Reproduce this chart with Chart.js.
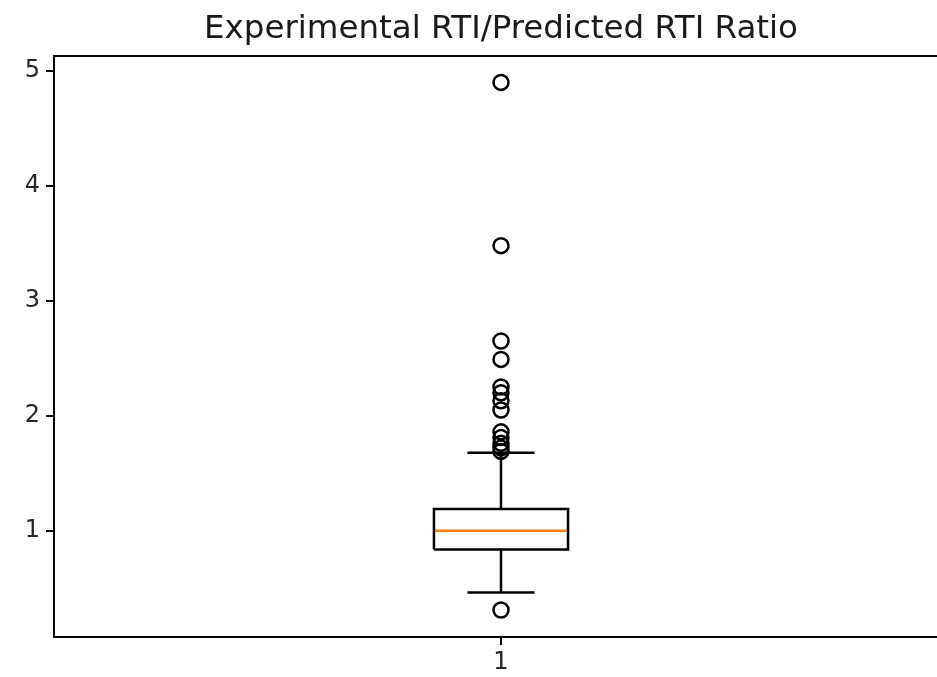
<!DOCTYPE html>
<html>
<head>
<meta charset="utf-8">
<title>Experimental RTI/Predicted RTI Ratio</title>
<script src="https://cdn.jsdelivr.net/npm/chart.js@4.4.0/dist/chart.umd.min.js"></script>
<style>
  html, body { margin: 0; padding: 0; background: #fff; overflow: hidden; }
  #wrap { width: 960px; height: 677px; }
</style>
</head>
<body>
<div id="wrap"><canvas id="box" width="960" height="677"></canvas></div>
<script>
// valores
const categories = ["1"];
const q1 = [0.837];
const median = [1.0];
const q3 = [1.189];
const whiskerLow = [0.463];
const whiskerHigh = [1.677];
const outliers = [[0.31, 1.69, 1.72, 1.76, 1.81, 1.86, 2.05, 2.13, 2.20, 2.25, 2.49, 2.65, 3.48, 4.90]];
const yTicks = [1, 2, 3, 4, 5];
const titulo = "Experimental RTI/Predicted RTI Ratio";

const BOX_W = 0.15;   // largura da caixa (unidades do eixo x)
const CAP_W = 0.075;  // largura das barras dos bigodes
const FONT = "'DejaVu Sans', 'Liberation Sans', sans-serif";
const INK = "#000";

const lineSet = (data, color = INK, width = 2.5) => ({
  type: "line",
  data,
  borderColor: color,
  borderWidth: width,
  pointRadius: 0,
  pointHoverRadius: 0,
  fill: false,
  tension: 0
});

const datasets = [];
categories.forEach((c, i) => {
  const x = i + 1, h = BOX_W / 2, k = CAP_W / 2;
  datasets.push(lineSet([
    { x: x - h, y: q1[i] }, { x: x + h, y: q1[i] }, { x: x + h, y: q3[i] },
    { x: x - h, y: q3[i] }, { x: x - h, y: q1[i] }
  ]));
  datasets.push(lineSet([{ x, y: q1[i] }, { x, y: whiskerLow[i] }]));
  datasets.push(lineSet([{ x, y: q3[i] }, { x, y: whiskerHigh[i] }]));
  datasets.push(lineSet([{ x: x - k, y: whiskerLow[i] }, { x: x + k, y: whiskerLow[i] }]));
  datasets.push(lineSet([{ x: x - k, y: whiskerHigh[i] }, { x: x + k, y: whiskerHigh[i] }]));
  datasets.push(lineSet([{ x: x - h, y: median[i] }, { x: x + h, y: median[i] }], "#ff7f0e", 2.5));
  datasets.push({
    type: "scatter",
    data: outliers[i].map((v) => ({ x, y: v })),
    showLine: false,
    pointStyle: "circle",
    pointRadius: 7.5,
    pointBorderWidth: 2.5,
    borderColor: INK,
    backgroundColor: "rgba(0,0,0,0)"
  });
});

// moldura do eixo (topo/direita) + título centrado sobre a área do gráfico
const frame = {
  id: "frame",
  afterDatasetsDraw(chart) {
    const { ctx, chartArea: a } = chart;
    ctx.save();
    ctx.strokeStyle = INK;
    ctx.lineWidth = 2;
    ctx.strokeRect(a.left, a.top, a.right - a.left, a.bottom - a.top);
    ctx.fillStyle = "#1a1a1a";
    ctx.font = "32.5px " + FONT;
    ctx.textAlign = "center";
    ctx.textBaseline = "middle";
    ctx.fillText(titulo, (a.left + a.right) / 2, 30);
    ctx.restore();
  }
};

new Chart(document.getElementById("box"), {
  type: "scatter",
  data: { datasets },
  plugins: [frame],
  options: {
    responsive: false,
    animation: false,
    events: [],
    layout: { padding: { top: 56, right: 12, bottom: 0, left: 0 } },
    plugins: {
      legend: { display: false },
      tooltip: { enabled: false },
      title: { display: false }
    },
    scales: {
      x: {
        type: "linear",
        min: 0.5,
        max: 1.5,
        afterBuildTicks(s) { s.ticks = categories.map((_, i) => ({ value: i + 1 })); },
        afterFit(s) { s.height = 40; },
        ticks: {
          color: "#262626",
          padding: 3,
          font: { family: FONT, size: 24 },
          callback: (v) => categories[v - 1] ?? ""
        },
        grid: { drawOnChartArea: false, color: INK, lineWidth: 2, tickLength: 8 },
        border: { display: true, color: INK, width: 2 }
      },
      y: {
        type: "linear",
        min: 0.075,
        max: 5.13,
        afterBuildTicks(s) { s.ticks = yTicks.map((v) => ({ value: v })); },
        afterFit(s) { s.width = 54; },
        ticks: {
          color: "#262626",
          padding: 6,
          font: { family: FONT, size: 24 },
          callback: (v) => String(v)
        },
        grid: { drawOnChartArea: false, color: INK, lineWidth: 2, tickLength: 8 },
        border: { display: true, color: INK, width: 2 }
      }
    }
  }
});
</script>
</body>
</html>
